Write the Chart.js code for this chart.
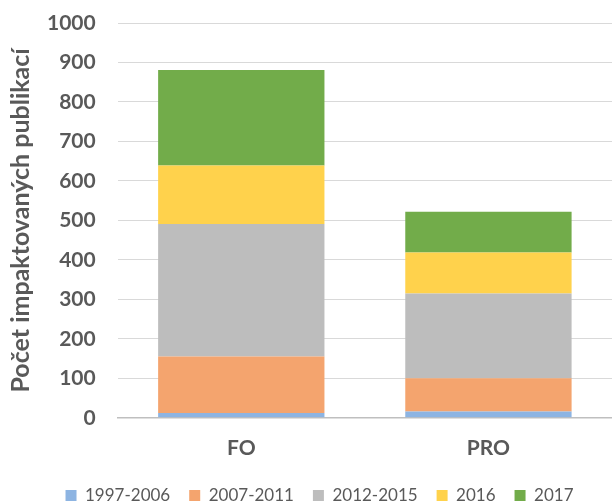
<!DOCTYPE html>
<html>
<head>
<meta charset="utf-8">
<script src="https://cdn.jsdelivr.net/npm/chart.js@4"></script>
<style>
  html, body { margin: 0; padding: 0; background: #fff; overflow: hidden; }
  #wrap { width: 612px; height: 502px; position: relative; }
</style>
</head>
<body>
<div id="wrap"><canvas id="chart"></canvas></div>
<script>
// data
const categories = ["FO", "PRO"];
const seriesNames = ["1997-2006", "2007-2011", "2012-2015", "2016", "2017"];
const v1997_2006 = [12, 16];
const v2007_2011 = [143, 84];
const v2012_2015 = [336, 215];
const v2016 = [148, 104];
const v2017 = [242, 103];
const yTicks = [0, 100, 200, 300, 400, 500, 600, 700, 800, 900, 1000];

const colors = ["#8DB4E2", "#F4A46E", "#BDBDBD", "#FFD24C", "#72AC4A"];
const values = [v1997_2006, v2007_2011, v2012_2015, v2016, v2017];

const datasets = seriesNames.map((name, i) => ({
    label: name,
    data: values[i],
    backgroundColor: colors[i],
    borderWidth: 0,
    categoryPercentage: 1,
    barPercentage: 0.673
}));

new Chart(document.getElementById("chart"), {
    type: "bar",
    data: { labels: categories, datasets: datasets },
    options: {
        responsive: true,
        maintainAspectRatio: false,
        animation: false,
        layout: { padding: { left: 27, right: 0, top: 23, bottom: -12 } },
        plugins: {
            legend: {
                position: "bottom",
                labels: {
                    boxWidth: 11,
                    boxHeight: 11,
                    padding: 19,
                    color: "#595959",
                    font: { family: "Lato", size: 17 }
                }
            },
            tooltip: { enabled: false }
        },
        scales: {
            x: {
                stacked: true,
                grid: { display: false, drawTicks: false },
                border: { display: true, color: "#BFBFBF", width: 1.5 },
                ticks: {
                    color: "#595959",
                    padding: 18,
                    font: { family: "Lato", size: 21, weight: "bold" }
                },
                afterFit: scale => { scale.height -= 11; }
            },
            y: {
                stacked: true,
                min: 0,
                max: 1000,
                afterBuildTicks: axis => { axis.ticks = yTicks.map(v => ({ value: v })); },
                afterFit: scale => { scale.paddingTop = 12; scale.paddingBottom = 12; },
                grid: { color: "#D9D9D9", drawTicks: false },
                border: { display: false },
                ticks: {
                    color: "#595959",
                    padding: 22,
                    callback: v => String(v),
                    font: { family: "Lato", size: 21, weight: "bold" }
                },
                title: {
                    display: true,
                    text: "Počet impaktovaných publikací",
                    color: "#595959",
                    padding: { top: -21, bottom: -11 },
                    font: { family: "Lato", size: 25, weight: "bold" }
                }
            }
        }
    }
});
</script>
</body>
</html>
